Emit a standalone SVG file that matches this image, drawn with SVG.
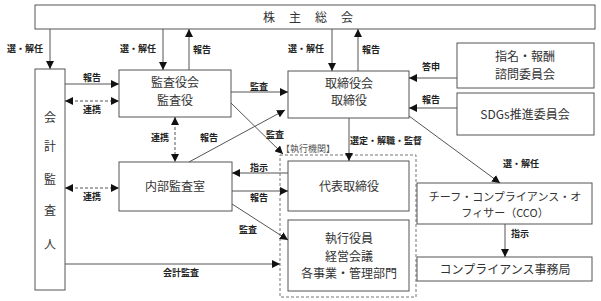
<svg xmlns="http://www.w3.org/2000/svg" width="601" height="301" viewBox="0 0 601 301">
<defs>
<marker id="ah" viewBox="0 0 10 10" refX="10" refY="5" markerWidth="8" markerHeight="8" markerUnits="userSpaceOnUse" orient="auto-start-reverse">
<path d="M0,0 L10,5 L0,10 z" fill="#111"/>
</marker>
<style>
.box{fill:#fff;stroke:#555;stroke-width:1}
.t{font-family:"Noto Sans CJK JP","Noto Sans",sans-serif;font-size:12px;fill:#333;text-anchor:middle}
.l{font-family:"Noto Sans CJK JP","Noto Sans",sans-serif;font-size:9px;fill:#222;font-weight:bold}
.c{fill:none;stroke:#555;stroke-width:1}
.a{marker-end:url(#ah)}
.b{marker-start:url(#ah);marker-end:url(#ah)}
.d{stroke-dasharray:3,2}
</style>
</defs>
<rect width="601" height="301" fill="#fff"/>
<g id="executive-frame">
<rect x="280" y="155" width="136" height="142" fill="none" stroke="#777" stroke-dasharray="3,2"/>
<text class="l" x="281" y="152" style="font-weight:normal;fill:#555">【執行機関】</text>
</g>
<g id="shareholders">
<rect class="box" x="35" y="5" width="560" height="24"/>
<text class="t" x="315" y="22" letter-spacing="14">株主総会</text>
</g>
<g id="auditor">
<rect class="box" x="35" y="69" width="30" height="221"/>
<text class="t" x="50" y="122">会</text>
<text class="t" x="50" y="151">計</text>
<text class="t" x="50" y="184">監</text>
<text class="t" x="50" y="215">査</text>
<text class="t" x="50" y="249">人</text>
</g>
<g id="audit-board">
<rect class="box" x="119" y="70" width="112" height="47"/>
<text class="t" x="175" y="87">監査役会</text>
<text class="t" x="175" y="104.5">監査役</text>
</g>
<g id="board">
<rect class="box" x="288" y="71" width="121" height="47"/>
<text class="t" x="349" y="87.5">取締役会</text>
<text class="t" x="349" y="105">取締役</text>
</g>
<g id="nomination">
<rect class="box" x="457" y="43" width="137" height="45"/>
<text class="t" x="525" y="61">指名・報酬</text>
<text class="t" x="525" y="78.5">諮問委員会</text>
</g>
<g id="sdgs">
<rect class="box" x="457" y="93" width="137" height="42"/>
<text class="t" x="525" y="118.5">SDGs推進委員会</text>
</g>
<g id="internal-audit">
<rect class="box" x="119" y="162" width="113" height="49"/>
<text class="t" x="175" y="191">内部監査室</text>
</g>
<g id="ceo">
<rect class="box" x="288" y="161" width="121" height="50"/>
<text class="t" x="349" y="190.5">代表取締役</text>
</g>
<g id="officers">
<rect class="box" x="288" y="220" width="121" height="71"/>
<text class="t" x="349" y="243">執行役員</text>
<text class="t" x="349" y="260.5">経営会議</text>
<text class="t" x="349" y="278">各事業・管理部門</text>
</g>
<g id="cco">
<rect class="box" x="417" y="183" width="175" height="41"/>
<text class="t" x="505" y="200.5" style="font-size:11px">チーフ・コンプライアンス・オ</text>
<text class="t" x="505" y="216.5" style="font-size:11px">フィサー（CCO）</text>
</g>
<g id="compliance-office">
<rect class="box" x="417" y="257" width="175" height="24"/>
<text class="t" x="505" y="273.5">コンプライアンス事務局</text>
</g>
<g id="connectors">
<line class="c a" x1="50" y1="29" x2="50" y2="69"/>
<line class="c a" x1="163" y1="29" x2="163" y2="70"/>
<line class="c a" x1="189" y1="70" x2="189" y2="29"/>
<line class="c a" x1="332" y1="29" x2="332" y2="71"/>
<line class="c a" x1="358" y1="71" x2="358" y2="29"/>
<line class="c a" x1="457" y1="78" x2="409" y2="78"/>
<line class="c a" x1="457" y1="108" x2="409" y2="108"/>
<line class="c a" x1="409" y1="116" x2="500" y2="183"/>
<line class="c a" x1="349" y1="118" x2="349" y2="161"/>
<line class="c a" x1="65" y1="84" x2="119" y2="84"/>
<line class="c b d" x1="65" y1="101" x2="119" y2="101"/>
<line class="c a" x1="231" y1="92" x2="288" y2="92"/>
<line class="c a" x1="231" y1="103" x2="283" y2="154"/>
<line class="c b d" x1="175" y1="117" x2="175" y2="162"/>
<line class="c a" x1="189" y1="162" x2="285" y2="110"/>
<line class="c b d" x1="65" y1="188" x2="119" y2="188"/>
<line class="c a" x1="288" y1="173" x2="232" y2="173"/>
<line class="c a" x1="232" y1="191" x2="288" y2="191"/>
<line class="c a" x1="232" y1="204" x2="288" y2="240"/>
<line class="c a" x1="65" y1="264" x2="280" y2="264"/>
<line class="c a" x1="505" y1="224" x2="505" y2="257"/>
<text class="l" x="7" y="52">選・解任</text>
<text class="l" x="120" y="52">選・解任</text>
<text class="l" x="193" y="53">報告</text>
<text class="l" x="288" y="52">選・解任</text>
<text class="l" x="362" y="53">報告</text>
<text class="l" x="422" y="70">答申</text>
<text class="l" x="422" y="103">報告</text>
<text class="l" x="83" y="81">報告</text>
<text class="l" x="83" y="113">連携</text>
<text class="l" x="250" y="90">監査</text>
<text class="l" x="266" y="138">監査</text>
<text class="l" x="151" y="141">連携</text>
<text class="l" x="200" y="141">報告</text>
<text class="l" x="350" y="144">選定・解職・監督</text>
<text class="l" x="250" y="171">指示</text>
<text class="l" x="250" y="201">報告</text>
<text class="l" x="83" y="200">連携</text>
<text class="l" x="239" y="233">監査</text>
<text class="l" x="163" y="276">会計監査</text>
<text class="l" x="503" y="167">選・解任</text>
<text class="l" x="511" y="237">指示</text>
</g>
</svg>
